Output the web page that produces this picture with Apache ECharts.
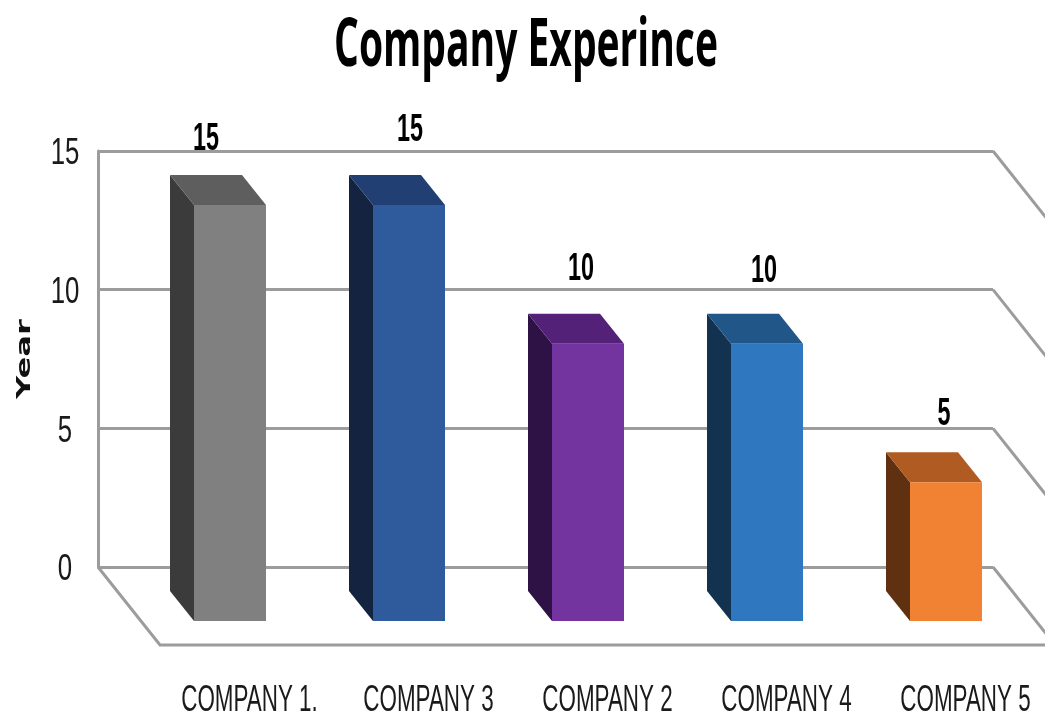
<!DOCTYPE html>
<html>
<head>
<meta charset="utf-8">
<style>html,body{margin:0;padding:0;background:#fff}#chart{width:1045px;height:717px}</style>
<script src="https://cdn.jsdelivr.net/npm/echarts@6/dist/echarts.min.js"></script>
</head>
<body>
<div id="chart"></div>
<script>
// Years of experience per company
const categories = ['COMPANY 1.', 'COMPANY 3', 'COMPANY 2', 'COMPANY 4', 'COMPANY 5'];
const years = [15, 15, 10, 10, 5];
const yearTicks = [0, 5, 10, 15];

// Face colours of each column: front, side, top
const frontColors = ['#808080', '#2f5a9b', '#7434a0', '#2f78bf', '#f28233'];
const sideColors = ['#3b3b3b', '#14233f', '#2e1245', '#123250', '#5f3110'];
const topColors = ['#5e5e5e', '#223f73', '#532278', '#205688', '#b05b22'];

// Small per-column placement of the value labels above the columns
const labelShiftX = [-24, 1, -7, -3, -2];
const labelShiftY = [-66, -75, -74, -72, -68];

const LINE = '#9c9c9c';
const NARROW = '"Liberation Sans Narrow", "Liberation Sans", sans-serif';

// Perspective of the floor: wall to front edge, and wall to column faces
const FLOOR_DX = 62, FLOOR_DY = 78;
const BACK_DX = -17.5, BACK_DY = 24, FACE_DX = 24, FACE_DY = 30, FACE_W = 72;

const poly = (points, fill) => ({ type: 'polygon', shape: { points }, style: { fill } });
const stroke = { stroke: LINE, lineWidth: 3 };

function renderColumn(params, api) {
  const i = api.value(0), v = api.value(1);
  const top = api.coord([i, v]);
  const base = api.coord([i, 0]);
  const bx = top[0] + BACK_DX, tb = top[1] + BACK_DY, bb = base[1] + BACK_DY;
  const fx = bx + FACE_DX, tf = tb + FACE_DY, bf = bb + FACE_DY;
  return {
    type: 'group',
    children: [
      poly([[bx, tb], [fx, tf], [fx, bf], [bx, bb]], sideColors[i]),
      poly([[bx, tb], [bx + FACE_W, tb], [fx + FACE_W, tf], [fx, tf]], topColors[i]),
      poly([[fx, tf], [fx + FACE_W, tf], [fx + FACE_W, bf], [fx, bf]], frontColors[i]),
      {
        type: 'text', x: fx + FACE_W / 2 + labelShiftX[i], y: tf + labelShiftY[i],
        scaleX: 0.78, scaleY: 1.3,
        style: { text: String(v), fontFamily: NARROW, fontWeight: 'bold', fontSize: 30, fill: '#000', textAlign: 'center', textVerticalAlign: 'middle' }
      }
    ]
  };
}

// Receding floor lines leaving the right edge of the wall at each tick
function renderDepthLine(params, api) {
  const y = api.coord([0, api.value(0)])[1];
  const x = params.coordSys.x + params.coordSys.width;
  return { type: 'line', shape: { x1: x, y1: y, x2: x + FLOOR_DX, y2: y + FLOOR_DY }, style: stroke };
}

// Left and front edges of the floor
function renderFloorEdges(params, api) {
  const y = api.coord([0, 0])[1];
  const { x, width } = params.coordSys;
  return {
    type: 'polyline',
    shape: { points: [[x, y], [x + FLOOR_DX, y + FLOOR_DY], [x + width + FLOOR_DX, y + FLOOR_DY]] },
    style: { stroke: LINE, lineWidth: 3, fill: 'none' }
  };
}

function renderYearTick(params, api) {
  const v = api.value(0);
  return {
    type: 'text', x: params.coordSys.x - 33, y: api.coord([0, v])[1] + 3,
    scaleX: 0.86, scaleY: 1.26,
    style: { text: String(v), fontFamily: NARROW, fontSize: 30, fill: '#1a1a1a', textAlign: 'center', textVerticalAlign: 'middle' }
  };
}

function renderCategoryLabel(params, api) {
  const i = api.value(0);
  const p = api.coord([i, 0]);
  return {
    type: 'text', x: p[0] + FLOOR_DX, y: p[1] + FLOOR_DY + 56,
    scaleX: 0.83, scaleY: 1.4,
    style: { text: categories[i], fontFamily: NARROW, fontSize: 27, fill: '#1a1a1a', textAlign: 'center', textVerticalAlign: 'middle' }
  };
}

const chart = echarts.init(document.getElementById('chart'), null, { renderer: 'canvas' });
chart.setOption({
  animation: false,
  backgroundColor: '#fff',
  grid: { left: 98, top: 151, width: 895, height: 416 },
  xAxis: { type: 'category', data: categories, axisLine: { show: false }, axisTick: { show: false }, axisLabel: { show: false } },
  yAxis: {
    type: 'value', min: 0, max: 15, interval: 5,
    axisLine: { show: true, lineStyle: { color: LINE, width: 3 } }, axisTick: { show: false }, axisLabel: { show: false },
    splitLine: { show: true, lineStyle: { color: LINE, width: 3 } }
  },
  graphic: [
    {
      type: 'text', x: 526, y: 47, scaleX: 0.78, scaleY: 1.33, z: 10,
      style: { text: 'Company Experince', fontFamily: '"Open Sans", sans-serif', fontWeight: 'bold', fontSize: 50, fill: '#000', textAlign: 'center', textVerticalAlign: 'middle' }
    },
    {
      type: 'text', x: 25, y: 359, rotation: Math.PI / 2, scaleX: 1.4, scaleY: 0.85, z: 10,
      style: { text: 'Year', fontFamily: '"DejaVu Sans", sans-serif', fontWeight: 'bold', fontSize: 23, fill: '#111', textAlign: 'center', textVerticalAlign: 'middle' }
    }
  ],
  series: [
    { type: 'custom', clip: false, z: 1, data: yearTicks.map(v => [v]), encode: { y: 0 }, renderItem: renderDepthLine },
    { type: 'custom', clip: false, z: 1, data: [[0]], renderItem: renderFloorEdges },
    { type: 'custom', clip: false, z: 3, data: yearTicks.map(v => [v]), encode: { y: 0 }, renderItem: renderYearTick },
    { type: 'custom', clip: false, z: 3, data: categories.map((c, i) => [i]), encode: { x: 0 }, renderItem: renderCategoryLabel },
    { type: 'custom', clip: false, z: 2, data: years.map((v, i) => [i, v]), encode: { x: 0, y: 1 }, renderItem: renderColumn }
  ]
});
</script>
</body>
</html>
